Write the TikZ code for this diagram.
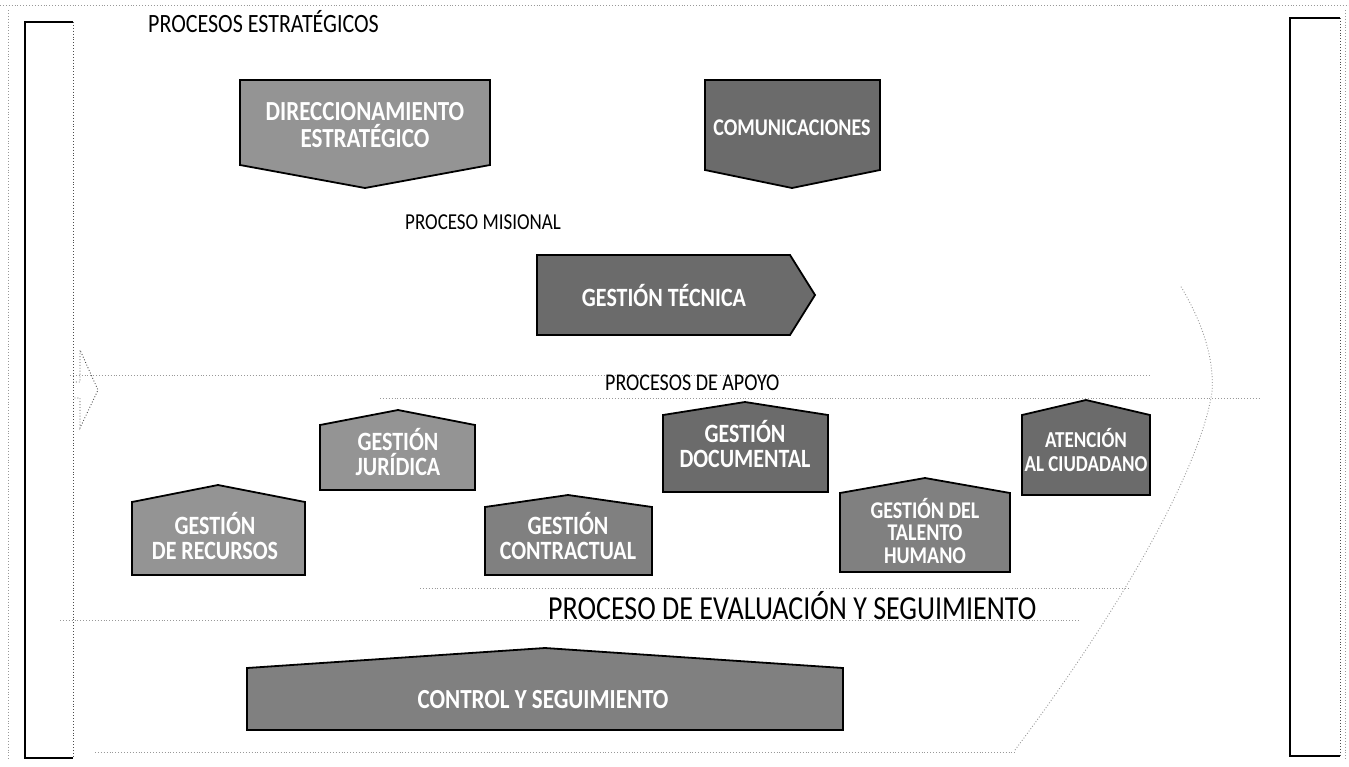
\documentclass[tikz,border=0pt]{standalone}
\usepackage{fontspec}
\setmainfont{Carlito}
\begin{document}
\begin{tikzpicture}[x=1pt,y=-1pt,
  procbox/.style={draw=black, line width=1.8pt, fill=black!50, line join=miter},
  lightbox/.style={procbox, fill=black!42},
  darkbox/.style={procbox, fill=black!58},
  lbl/.style={text=white, font=\bfseries\fontsize{22}{21}\selectfont, align=center, inner sep=0pt, yscale=1.2, transform shape},
  title/.style={font=\fontsize{20}{24}\selectfont, anchor=west, inner sep=0pt, yscale=1.2, transform shape},
  faint/.style={draw=black!40, dotted, line width=0.9pt},
  frame/.style={draw=black, line width=1.2pt}]
\useasboundingbox (0,0) rectangle (1349,766);
\fill[white] (0,0) rectangle (1349,766);
% outer faint frame
\draw[faint] (0,5) -- (1349,5);
\draw[faint] (8,10) -- (8,760);
\draw[faint] (1345,10) -- (1345,760);
\draw[faint] (95,752) -- (1015,752);
\draw[faint] (1015,750) .. controls (1120,610) and (1200,470) .. (1212,392) .. controls (1215,350) and (1195,310) .. (1180,285);
% left and right bars
\draw[frame] (73,22) -- (25,22) -- (25,758) -- (73,758);
\draw[faint, draw=black!70] (73,22) -- (73,758);
\draw[faint, draw=black!70] (73,382) -- (80,382) -- (80,350) -- (98,390) -- (80,428) -- (80,398) -- (73,398);
\draw[frame] (1340,18) -- (1290,18) -- (1290,756) -- (1340,756);
\draw[faint, draw=black!70] (1340,18) -- (1340,756);
% section separators
\draw[faint] (70,375) -- (1150,375);
\draw[faint] (380,398) -- (1260,398);
\draw[faint] (420,588) -- (1130,588);
\draw[faint] (60,620) -- (1080,620);
% titles
\node[title, font=\fontsize{22}{26}\selectfont] (tEst) at (148,22) {PROCESOS ESTRATÉGICOS};
\node[title, font=\fontsize{19}{23}\selectfont] (tMis) at (405,222) {PROCESO MISIONAL};
\node[title] (tApo) at (605,383) {PROCESOS DE APOYO};
\node[title, font=\fontsize{28}{32}\selectfont] (tEva) at (548,606) {PROCESO DE EVALUACIÓN Y SEGUIMIENTO};
% strategic
\draw[lightbox] (240,80) -- (490,80) -- (490,165) -- (365,188) -- (240,165) -- cycle;
\node[lbl, font=\bfseries\fontsize{23}{22}\selectfont] (dir) at (365,125) {DIRECCIONAMIENTO\\ESTRATÉGICO};
\draw[darkbox] (705,80) -- (880,80) -- (880,170) -- (792,188) -- (705,170) -- cycle;
\node[lbl, font=\bfseries\fontsize{20}{21}\selectfont] (com) at (792,128) {COMUNICACIONES};
% misional
\draw[darkbox] (537,255) -- (790,255) -- (815,295) -- (790,335) -- (537,335) -- cycle;
\node[lbl] (tec) at (664,295) {GESTIÓN TÉCNICA};
% apoyo
\draw[lightbox] (132,502) -- (218,485) -- (305,502) -- (305,575) -- (132,575) -- cycle;
\node[lbl] (rec) at (215,536) {GESTIÓN\\DE RECURSOS};
\draw[lightbox] (320,425) -- (398,410) -- (475,425) -- (475,490) -- (320,490) -- cycle;
\node[lbl] (jur) at (398,452) {GESTIÓN\\JURÍDICA};
\draw[procbox] (485,507) -- (568,495) -- (652,507) -- (652,575) -- (485,575) -- cycle;
\node[lbl] (con) at (568,536) {GESTIÓN\\CONTRACTUAL};
\draw[darkbox] (663,415) -- (745,402) -- (828,415) -- (828,492) -- (663,492) -- cycle;
\node[lbl] (doc) at (745,444) {GESTIÓN\\DOCUMENTAL};
\draw[procbox] (840,493) -- (925,478) -- (1010,493) -- (1010,572) -- (840,572) -- cycle;
\node[lbl, font=\bfseries\fontsize{20}{19}\selectfont] (tal) at (925,531) {GESTIÓN DEL\\TALENTO\\HUMANO};
\draw[darkbox] (1022,415) -- (1086,400) -- (1150,415) -- (1150,495) -- (1022,495) -- cycle;
\node[lbl, font=\bfseries\fontsize{19}{20}\selectfont] (ate) at (1086,450) {ATENCIÓN\\AL CIUDADANO};
% evaluacion
\draw[procbox] (247,668) -- (545,648) -- (843,668) -- (843,730) -- (247,730) -- cycle;
\node[lbl, font=\bfseries\fontsize{23}{26}\selectfont] (ctl) at (543,700) {CONTROL Y SEGUIMIENTO};
\end{tikzpicture}
\end{document}
